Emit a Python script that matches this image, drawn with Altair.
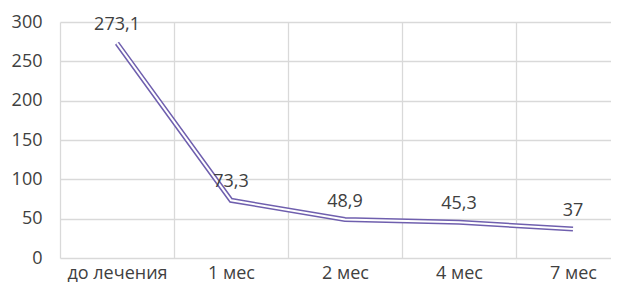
import json
import altair as alt
import pandas as pd

categories = ["до лечения", "1 мес", "2 мес", "4 мес", "7 мес"]
values = [273.1, 73.3, 48.9, 45.3, 37]
y_ticks = [0, 50, 100, 150, 200, 250, 300]

df = pd.DataFrame({
    "cat": categories,
    "i": list(range(len(categories))),
    "v": values,
    "label": [("%g" % v).replace(".", ",") for v in values],
})

x_vals = sorted([i - 0.5 for i in range(len(categories))] + list(range(len(categories))))
label_expr = ("datum.value % 1 === 0 ? " + json.dumps(categories, ensure_ascii=False)
              + "[datum.value] : ''")

FONT = "Open Sans"
TXT = "#404040"
GRID = "#d9d9d9"
PURPLE = "#6f5fae"

x_enc = alt.X("i:Q",
              scale=alt.Scale(domain=[-0.5, 4.3333], nice=False, zero=False),
              axis=alt.Axis(values=x_vals, labelExpr=label_expr, title=None,
                            labelOverlap=False, labelFlush=False,
                            grid=True, gridColor=GRID, gridWidth=1.3,
                            gridOpacity={"condition": {"test": "datum.value % 1 !== 0", "value": 1}, "value": 0},
                            ticks=False, domain=False, labelPadding=6,
                            labelFont=FONT, labelFontSize=18, labelColor=TXT))
y_enc = alt.Y("v:Q",
              scale=alt.Scale(domain=[0, 300], nice=False),
              axis=alt.Axis(values=y_ticks, title=None, grid=True, gridColor=GRID,
                            gridWidth=1.3, ticks=False, domain=False, labelPadding=18,
                            labelOverlap=False, labelFlush=False,
                            labelFont=FONT, labelFontSize=18, labelColor=TXT))

base = alt.Chart(df)
outer = base.mark_line(color=PURPLE, strokeWidth=5, strokeCap="butt", strokeJoin="miter").encode(x=x_enc, y=y_enc)
inner = base.mark_line(color="white", strokeWidth=2, strokeCap="butt", strokeJoin="miter").encode(x=x_enc, y=y_enc)
text = base.mark_text(dy=-18, baseline="middle", font=FONT, fontSize=18, color=TXT).encode(
    x=x_enc, y=y_enc, text="label:N")

chart = alt.layer(outer, inner, text).properties(
    width=551, height=236,
    autosize=alt.AutoSizeParams(type="none"),
    padding={"left": 52, "top": 14, "right": 0, "bottom": 24},
).configure_view(stroke=None).configure_axis(labelOverlap=False)

chart.save("out.html", embed_options={"renderer": "svg", "actions": False})
